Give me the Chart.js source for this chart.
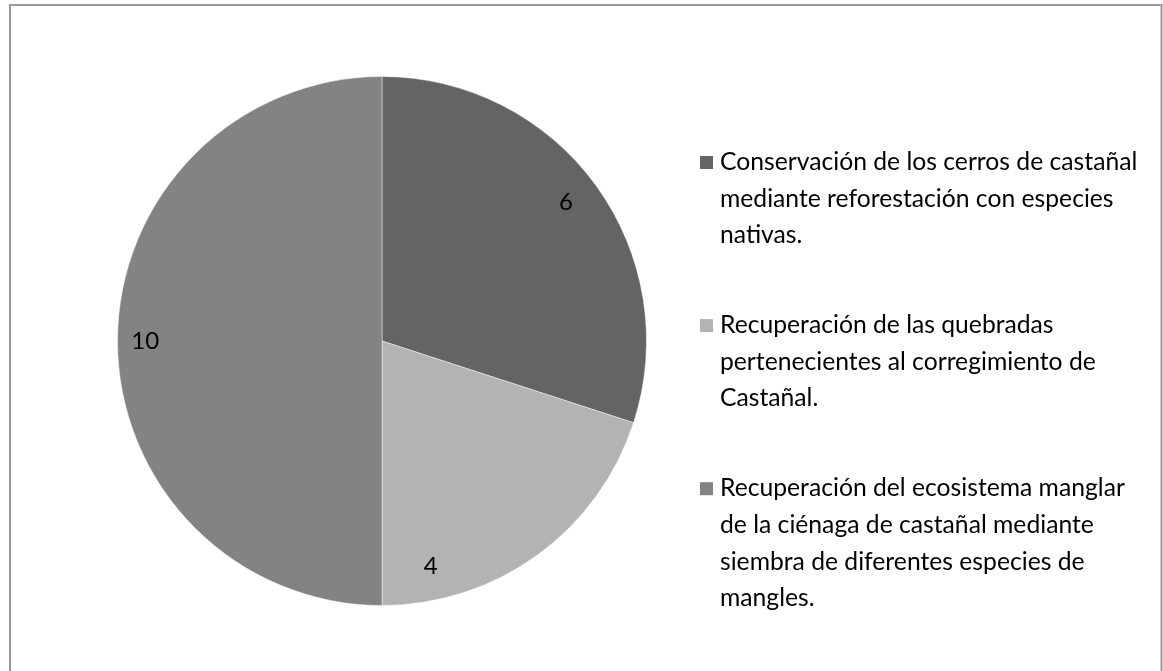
<!DOCTYPE html>
<html><head><meta charset="utf-8">
<script src="https://cdn.jsdelivr.net/npm/chart.js@4"></script>
<style>html,body{margin:0;padding:0;background:#fff;}#wrap{width:1163px;height:671px;position:relative;}</style>
</head><body><div id="wrap"><canvas id="c" width="1163" height="671"></canvas></div>
<script>
const categories = [
  "Conservación de los cerros de castañal mediante reforestación con especies nativas.",
  "Recuperación de las quebradas pertenecientes al corregimiento de Castañal.",
  "Recuperación del ecosistema manglar de la ciénaga de castañal mediante siembra de diferentes especies de mangles."
];
const legendLines = [
  ["Conservación de los cerros de castañal", "mediante reforestación con especies", "nativas."],
  ["Recuperación de las quebradas", "pertenecientes al corregimiento de", "Castañal."],
  ["Recuperación del ecosistema manglar", "de la ciénaga de castañal mediante", "siembra de diferentes especies de", "mangles."]
];
const values = [6, 4, 10];
const colors = ["#646464", "#b3b3b3", "#838383"];
const labelAngleFrac = [0.49, 0.83, 0.5];
const labelRadiusFrac = [0.872, 0.87, 0.895];

const FONT = "Lato";

const deco = {
  id: 'deco',
  beforeDraw(chart) {
    const ctx = chart.ctx;
    ctx.save();
    ctx.fillStyle = '#fff';
    ctx.fillRect(0, 0, chart.width, chart.height);
    ctx.strokeStyle = '#9a9a9a';
    ctx.lineWidth = 2;
    ctx.beginPath();
    ctx.moveTo(10, 672); ctx.lineTo(10, 5); ctx.lineTo(1161.5, 5); ctx.lineTo(1161.5, 672);
    ctx.stroke();
    ctx.restore();
  },
  afterDraw(chart) {
    const ctx = chart.ctx;
    const meta = chart.getDatasetMeta(0);
    ctx.save();
    ctx.fillStyle = '#000';
    ctx.font = '24px ' + FONT;
    ctx.textAlign = 'center';
    ctx.textBaseline = 'middle';
    meta.data.forEach((arc, i) => {
      const a = arc.startAngle + (arc.endAngle - arc.startAngle) * labelAngleFrac[i];
      const r = arc.outerRadius * labelRadiusFrac[i];
      ctx.fillText(String(values[i]), arc.x + Math.cos(a) * r, arc.y + Math.sin(a) * r);
    });
    // legend
    const lineH = 36.7;
    let y = 162;
    ctx.textAlign = 'left';
    ctx.font = '24.7px ' + FONT;
    legendLines.forEach((lines, i) => {
      ctx.fillStyle = colors[i];
      ctx.fillRect(700, y - 6, 13, 13);
      ctx.fillStyle = '#000';
      lines.forEach((t, j) => ctx.fillText(t, 720, y + j * lineH));
      y += lines.length * lineH + 53;
    });
    ctx.restore();
  }
};

new Chart(document.getElementById('c'), {
  type: 'pie',
  data: {
    labels: categories,
    datasets: [{
      data: values,
      backgroundColor: colors,
      borderColor: 'rgba(255,255,255,0.45)',
      borderWidth: 1
    }]
  },
  options: {
    responsive: false,
    animation: false,
    layout: { padding: { left: 117, right: 516, top: 76, bottom: 65 } },
    plugins: { legend: { display: false }, tooltip: { enabled: false } }
  },
  plugins: [deco]
});
</script></body></html>
